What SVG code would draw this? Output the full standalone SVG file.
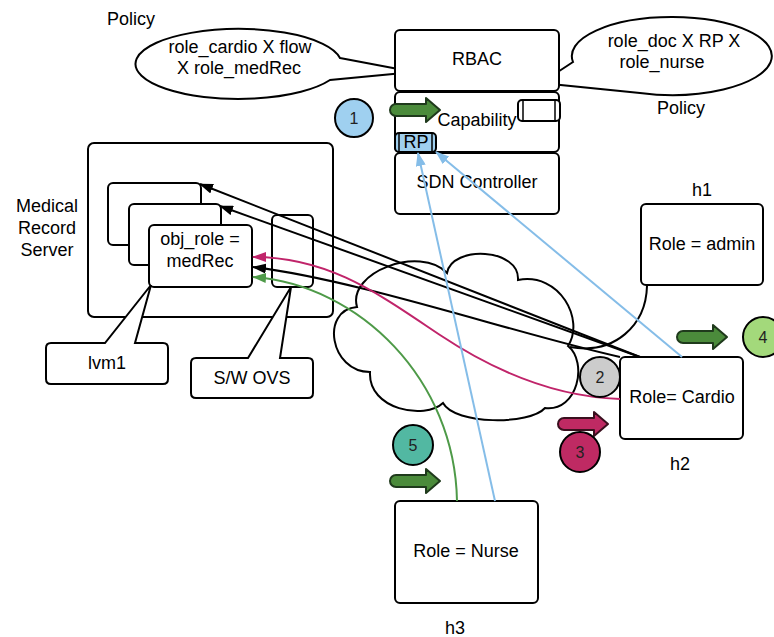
<svg xmlns="http://www.w3.org/2000/svg" width="774" height="637" viewBox="0 0 774 637">
<style>
.b{fill:#fff;stroke:#000;stroke-width:2}
.t{font-family:"Liberation Sans",Arial,sans-serif;font-size:18px;fill:#000;text-anchor:middle}
.tl{font-family:"Liberation Sans",Arial,sans-serif;font-size:18px;fill:#000}
.n{font-family:"Liberation Sans",Arial,sans-serif;font-size:16px;fill:#222;text-anchor:middle}
.c{fill:none;stroke-width:2}
.ga{fill:#4b8b3b;stroke:#1f3a1c;stroke-width:2;stroke-linejoin:round}
.ma{fill:#bf2a63;stroke:#3a0f1e;stroke-width:2;stroke-linejoin:round}
</style>
<defs>
<marker id="mk" viewBox="0 0 14 10" refX="13" refY="5" markerWidth="14" markerHeight="10" markerUnits="userSpaceOnUse" orient="auto"><path d="M0,0 L14,5 L0,10 Z" fill="#000"/></marker>
<marker id="mm" viewBox="0 0 14 10" refX="13" refY="5" markerWidth="14" markerHeight="10" markerUnits="userSpaceOnUse" orient="auto"><path d="M0,0 L14,5 L0,10 Z" fill="#c0246a"/></marker>
<marker id="mg" viewBox="0 0 14 10" refX="13" refY="5" markerWidth="14" markerHeight="10" markerUnits="userSpaceOnUse" orient="auto"><path d="M0,0 L14,5 L0,10 Z" fill="#4e9a48"/></marker>
<marker id="mb" viewBox="0 0 14 10" refX="13" refY="5" markerWidth="14" markerHeight="10" markerUnits="userSpaceOnUse" orient="auto"><path d="M0,0 L14,5 L0,10 Z" fill="#85bde8"/></marker>
<path id="blk" d="M6,-6 H36 V-12 L50,0 L36,12 V6 H6 A6,6 0 0 1 6,-6 Z"/>
</defs>

<g id="policy-left">
<text class="tl" x="107" y="25">Policy</text>
<path class="b" d="M340,58 L414,72 L330,80 A103,35 0 1 1 340,58 Z"/>
<text class="t" x="240" y="53">role_cardio X flow</text>
<text class="t" x="239" y="74">X role_medRec</text>
</g>

<g id="policy-right">
<path class="b" d="M573,62 L541,83 L640,93 A100,39 0 1 0 573,62 Z"/>
<text class="t" x="674" y="47">role_doc X RP X</text>
<text class="t" x="662" y="68">role_nurse</text>
<text class="t" x="681" y="114">Policy</text>
</g>

<g id="controller">
<rect class="b" x="395" y="30" width="164" height="61" rx="5"/>
<text class="t" x="477" y="65">RBAC</text>
<rect class="b" x="395" y="92" width="164" height="60" rx="5"/>
<text class="t" x="477" y="126">Capability</text>
<rect class="b" x="395" y="153" width="164" height="61" rx="5"/>
<text class="t" x="477" y="188">SDN Controller</text>
<rect class="b" x="518" y="100" width="42" height="21" rx="4"/>
<line x1="523" y1="100" x2="523" y2="121" stroke="#000" stroke-width="1.5"/>
<line x1="555" y1="100" x2="555" y2="121" stroke="#000" stroke-width="1.5"/>
<rect x="395" y="133" width="41" height="19" rx="4" fill="#9fcfee" stroke="#000" stroke-width="2"/>
<line x1="399" y1="133" x2="399" y2="152" stroke="#000" stroke-width="1.5"/>
<line x1="432" y1="133" x2="432" y2="152" stroke="#000" stroke-width="1.5"/>
<text class="t" x="416" y="148">RP</text>
</g>

<g id="cloud">
<path class="b" d="M357,307 C347,272 420,245 447,273 C452,245 520,248 518,280 C560,272 585,320 568,346 C588,362 578,412 545,408 C530,425 455,425 443,403 C425,420 368,410 370,372 C330,372 320,310 357,307 Z"/>
<path class="c" stroke="#000" d="M647,286 C646,325 615,355 570,347"/>
</g>

<g id="server">
<rect class="b" x="88" y="143" width="245" height="174" rx="6"/>
<text class="t" x="47" y="212">Medical</text>
<text class="t" x="47" y="234">Record</text>
<text class="t" x="47" y="256">Server</text>
<rect class="b" x="108" y="183" width="93" height="62" rx="5"/>
<rect class="b" x="129" y="204" width="92" height="61" rx="5"/>
<rect class="b" x="149" y="225" width="103" height="62" rx="5"/>
<text class="t" x="200" y="245">obj_role =</text>
<text class="t" x="200" y="267">medRec</text>
<rect class="b" x="272" y="215" width="41" height="72" rx="5"/>
</g>

<g id="lvm1">
<path class="b" d="M51,343 H105 L151,285 L135,343 H163 Q168,343 168,348 V379 Q168,384 163,384 H51 Q46,384 46,379 V348 Q46,343 51,343 Z"/>
<text class="t" x="107" y="369">lvm1</text>
</g>

<g id="swovs">
<path class="b" d="M196,358 H248 L291,287 L280,358 H308 Q313,358 313,363 V393 Q313,398 308,398 H196 Q191,398 191,393 V363 Q191,358 196,358 Z"/>
<text class="t" x="252" y="384">S/W OVS</text>
</g>

<g id="h1">
<text class="t" x="702" y="196">h1</text>
<rect class="b" x="641" y="204" width="122" height="81" rx="5"/>
<text class="t" x="702" y="250">Role = admin</text>
</g>

<g id="h2">
<rect class="b" x="620" y="357" width="123" height="82" rx="5"/>
<text class="t" x="682" y="403">Role= Cardio</text>
<text class="t" x="680" y="470">h2</text>
</g>

<g id="h3">
<rect class="b" x="395" y="501" width="143" height="102" rx="5"/>
<text class="t" x="466" y="557">Role = Nurse</text>
<text class="t" x="455" y="634">h3</text>
</g>

<g id="connectors">
<path class="c" stroke="#000" d="M640,357 L200,184" marker-end="url(#mk)"/>
<path class="c" stroke="#000" d="M640,357 L220,206" marker-end="url(#mk)"/>
<path class="c" stroke="#000" d="M620,357 C520,335 360,280 253,267" marker-end="url(#mk)"/>
<path class="c" stroke="#c0246a" d="M620,399 C560,397 500,375 440,335 S330,257 253,257" marker-end="url(#mm)"/>
<path class="c" stroke="#4e9a48" d="M457,501 C455,380 360,285 253,277" marker-end="url(#mg)"/>
<path class="c" stroke="#85bde8" d="M495,501 L418,153" marker-end="url(#mb)"/>
<path class="c" stroke="#85bde8" d="M682,357 L436,152" marker-end="url(#mb)"/>
</g>

<g id="step-arrows">
<use href="#blk" x="390" y="110" class="ga"/>
<use href="#blk" x="677" y="337" class="ga"/>
<use href="#blk" x="390" y="481" class="ga"/>
<use href="#blk" x="558" y="424" class="ma"/>
</g>

<g id="step1"><circle cx="354" cy="118" r="19" fill="#9fd0f0" stroke="#000" stroke-width="2"/><text class="n" x="354" y="124">1</text></g>
<g id="step2"><circle cx="600" cy="377" r="20" fill="#cccccc" stroke="#000" stroke-width="2"/><text class="n" x="600" y="383">2</text></g>
<g id="step3"><circle cx="580" cy="452" r="20" fill="#bf2a63" stroke="#000" stroke-width="2"/><text class="n" x="580" y="458">3</text></g>
<g id="step4"><circle cx="763" cy="337" r="20" fill="#a3d97b" stroke="#000" stroke-width="2"/><text class="n" x="763" y="343">4</text></g>
<g id="step5"><circle cx="413" cy="445" r="20" fill="#52b8a2" stroke="#000" stroke-width="2"/><text class="n" x="413" y="451">5</text></g>
</svg>
